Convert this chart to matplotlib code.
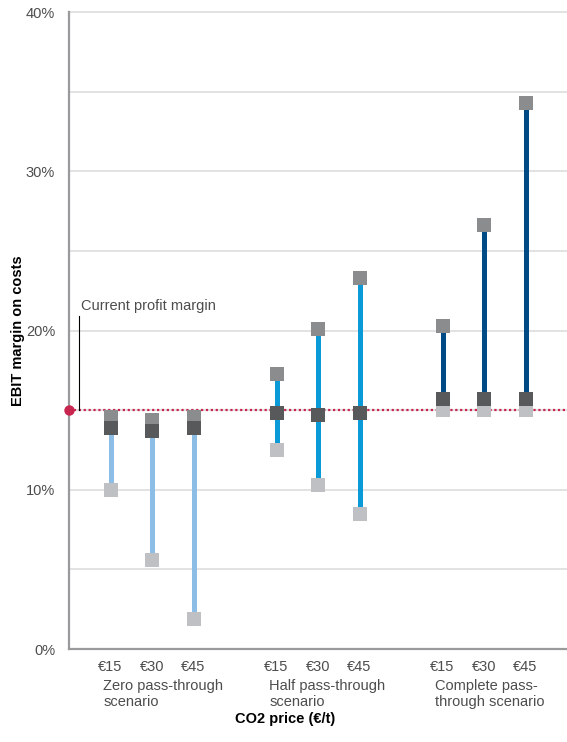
import matplotlib
matplotlib.use("Agg")
import matplotlib.pyplot as plt
import matplotlib.transforms as mtransforms

plt.rcParams["font.family"] = ["Liberation Sans", "DejaVu Sans"]

# EBIT margin on costs (%) per scenario and CO2 price
prices = ["€15", "€30", "€45"]
scenarios = ["Zero pass-through\nscenario", "Half pass-through\nscenario", "Complete pass-\nthrough scenario"]
high = [[14.6, 14.4, 14.6], [17.3, 20.1, 23.3], [20.3, 26.6, 34.3]]
mid = [[13.9, 13.7, 13.9], [14.8, 14.7, 14.8], [15.7, 15.7, 15.7]]
low = [[10.0, 5.6, 1.9], [12.5, 10.3, 8.5], [15.0, 15.0, 15.0]]
current_margin = 15.0

line_colors = ["#8bbde6", "#0a9ad7", "#004b85"]
text_color = "#4d4d4d"
fs = 10.5

fig = plt.figure(figsize=(5.67, 7.42), dpi=100)
ax = fig.add_axes([0.1217, 0.1253, 0.8783, 0.8585])

# gridlines every 5%, labels every 10%
for g in range(5, 40, 5):
    ax.axhline(g, color="#dadada", lw=1.1, zorder=0)
ax.axhline(40, color="#dadada", lw=1.1, zorder=0, clip_on=False)

for i, scen in enumerate(scenarios):
    for j in range(3):
        x = i * 4 + j
        lo = min(high[i][j], mid[i][j], low[i][j])
        hi = max(high[i][j], mid[i][j], low[i][j])
        ax.plot([x, x], [lo, hi], color=line_colors[i], lw=3.6, solid_capstyle="butt", zorder=2)
        ax.plot(x, low[i][j], "s", ms=9.4, color="#bfc0c3", mew=0, zorder=3)
        ax.plot(x, high[i][j], "s", ms=9.4, color="#8b8c8e", mew=0, zorder=3)
        ax.plot(x, mid[i][j], "s", ms=9.4, color="#58595b", mew=0, zorder=4)

# current profit margin reference line
ax.axhline(current_margin, color="#c8254f", lw=1.6, ls=(0, (1, 1.2)), zorder=1)
ax.plot(-1, current_margin, "o", ms=7.5, color="#c8254f", mew=0, clip_on=False, zorder=5)
ax.plot([-0.75, -0.75], [current_margin, 20.9], color="black", lw=0.8, zorder=5)
ax.text(-0.72, 21.1, "Current profit margin", fontsize=fs, color=text_color, va="bottom", ha="left")

ax.set_xlim(-1, 11)
ax.set_ylim(0, 40)
ax.set_yticks([0, 10, 20, 30, 40])
ax.set_yticklabels(["0%", "10%", "20%", "30%", "40%"])
ax.set_xticks([i * 4 + j for i in range(3) for j in range(3)])
ax.set_xticklabels(prices * 3)
ax.tick_params(axis="both", length=0, labelsize=fs, labelcolor=text_color)
ax.tick_params(axis="x", pad=8)
ax.tick_params(axis="y", pad=10)

for side in ["top", "right"]:
    ax.spines[side].set_visible(False)
ax.spines["left"].set_color("#9a9a9c")
ax.spines["left"].set_linewidth(1.6)
ax.spines["bottom"].set_color("#9a9a9c")
ax.spines["bottom"].set_linewidth(1.6)

trans = mtransforms.blended_transform_factory(ax.transData, fig.transFigure)
for i, scen in enumerate(scenarios):
    ax.text(i * 4 - 0.17, 0.085, scen, transform=trans, fontsize=fs, color=text_color,
            ha="left", va="top", linespacing=1.2)

ax.set_ylabel("EBIT margin on costs", fontsize=fs, fontweight="bold", color="black")
ax.yaxis.set_label_coords(-0.088, 0.5)
fig.text(0.503, 0.031, "CO2 price (€/t)", fontsize=fs, fontweight="bold", ha="center", va="center")

fig.savefig("out.png", dpi=100)
